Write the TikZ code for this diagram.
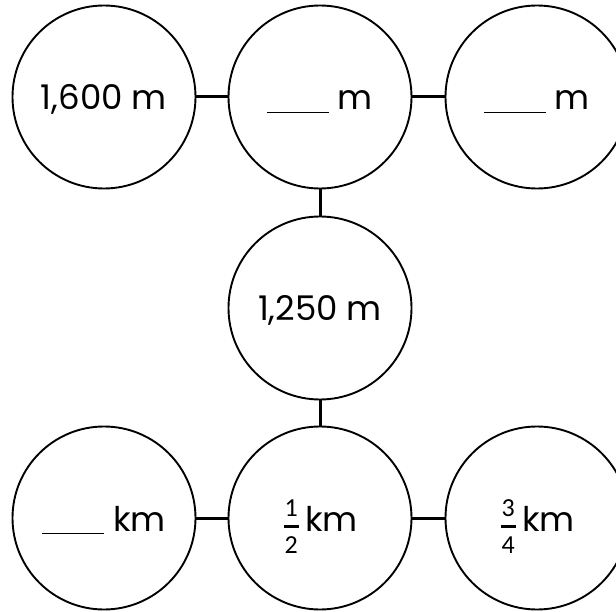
\documentclass[tikz,border=0pt]{standalone}
\usepackage{amsmath}
\usepackage{fontspec}
\setmainfont{Poppins}
\newfontfamily\fracfont{Carlito}
\usepackage{tikz}

\newcommand{\blank}{\rule[-3pt]{62pt}{1.3pt}\hspace{9pt}}
\newcommand{\fr}[2]{\raisebox{-2pt}{$\genfrac{}{}{2.8pt}{0}%
  {\text{\fracfont\fontsize{26}{26}\selectfont\kern1pt #1\kern1pt}}%
  {\text{\fracfont\fontsize{26}{26}\selectfont\kern1pt #2\kern1pt}}$}\hspace{5pt}}

\begin{document}
\begin{tikzpicture}[x=1pt,y=1pt,
        ring/.style={circle, draw, line width=1.9pt, minimum size=183pt,
                        inner sep=0pt, text height=26pt, text depth=0pt,
                        font=\fontsize{34}{40}\selectfont},
        link/.style={line width=3pt}]
    \useasboundingbox (0,0) rectangle (616,611);

    % top row
    \node[ring] (tl) at (104,514) {1,600 m};
    \node[ring] (tm) at (320,514) {\blank m};
    \node[ring] (tr) at (537,514) {\blank m};

    \node[ring] (mid) at (320,303) {1,250 m};

    % bottom row
    \node[ring] (bl) at (104,93) {\blank km};
    \node[ring] (bm) at (320,93) {\fr{1}{2}km};
    \node[ring] (br) at (537,93) {\fr{3}{4}km};

    \draw[link]
        (tl) -- (tm)  (tm) -- (tr)
        (tm) -- (mid) (mid) -- (bm)
        (bl) -- (bm)  (bm) -- (br);
\end{tikzpicture}
\end{document}
